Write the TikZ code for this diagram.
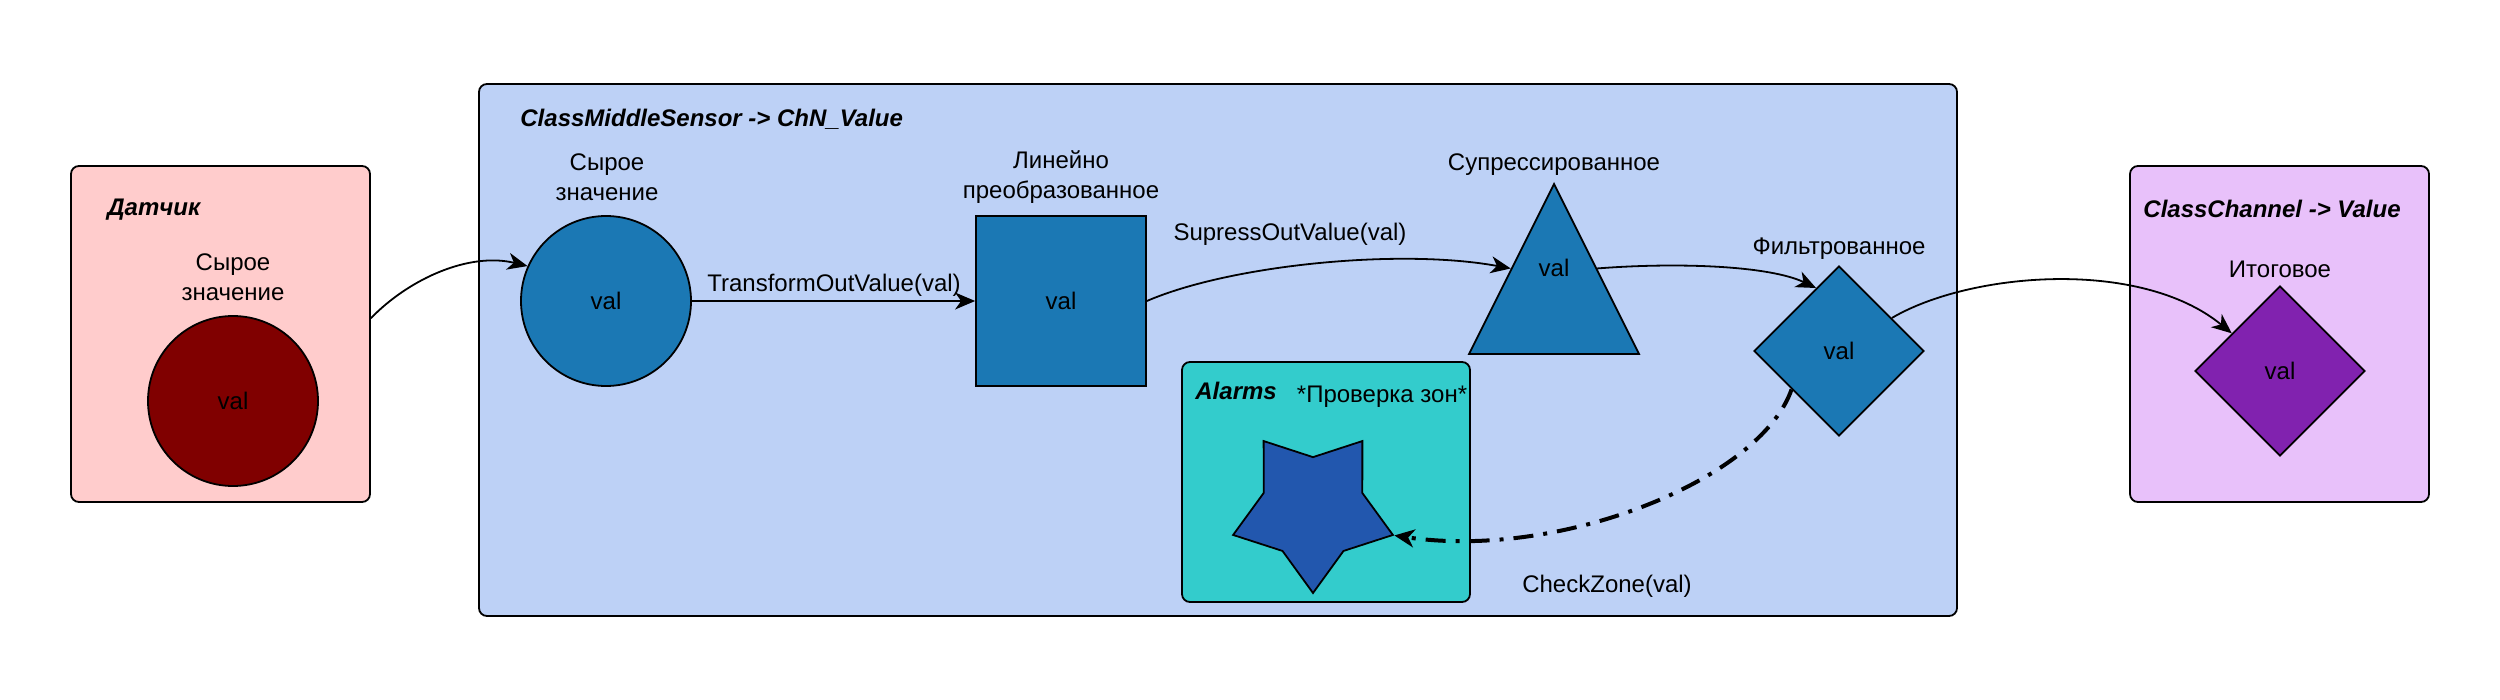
\documentclass[tikz,border=0pt]{standalone}
\usepackage{fontspec}
\setmainfont{Liberation Sans}
\usetikzlibrary{shapes.geometric,arrows.meta}
\definecolor{sensorbg}{RGB}{255,204,204}
\definecolor{rawred}{RGB}{128,0,0}
\definecolor{midbg}{RGB}{189,209,246}
\definecolor{nodeblue}{RGB}{27,120,180}
\definecolor{alarmbg}{RGB}{51,204,204}
\definecolor{starblue}{RGB}{34,87,174}
\definecolor{chanbg}{RGB}{232,193,250}
\definecolor{chanpurple}{RGB}{129,34,175}
\begin{document}
\begin{tikzpicture}[x=0.5pt,y=-0.5pt,
  font=\fontsize{12}{15}\selectfont,
  container/.style={draw=black, line width=0.9pt, rounded corners=4pt, inner sep=0pt},
  shapenode/.style={draw=black, line width=0.9pt, inner sep=0pt},
  titletext/.style={font=\fontsize{12}{15}\selectfont\bfseries\itshape, anchor=west, inner sep=0pt},
  caption/.style={align=center, inner sep=0pt},
  conn/.style={line width=0.9pt, -{Stealth[length=10pt,width=8.5pt,inset=3pt]}},
  dashconn/.style={line width=2pt, dash pattern=on 10pt off 5pt on 2pt off 5pt,
     -{Stealth[length=10pt,width=9pt,inset=3pt]}},
]
\useasboundingbox (0,0) rectangle (2500,700);

% containers
\node[container, fill=sensorbg, minimum width=149.5pt, minimum height=168pt] (sensor) at (220.5,334) {};
\node[container, fill=midbg, minimum width=739pt, minimum height=266pt] (middle) at (1218,350) {};
\node[container, fill=chanbg, minimum width=149.5pt, minimum height=168pt] (channel) at (2279.5,334) {};
\node[container, fill=alarmbg, minimum width=144pt, minimum height=120pt] (alarms) at (1326,482) {};

% titles
\node[titletext] (tsensor) at (107,210) {Датчик};
\node[titletext] (tmiddle) at (520,119) {ClassMiddleSensor -> ChN\_Value};
\node[titletext] (tchannel) at (2143,209) {ClassChannel -> Value};
\node[titletext] (talarms) at (1195,391) {Alarms};

% shapes
\node[shapenode, circle, fill=rawred, minimum size=85pt] (raw) at (233,401) {val};
\node[shapenode, circle, fill=nodeblue, minimum size=85pt] (rawmid) at (606,301) {val};
\node[shapenode, rectangle, fill=nodeblue, minimum size=85pt] (lin) at (1061,301) {val};
\node[shapenode, isosceles triangle, isosceles triangle apex angle=53.13, shape border rotate=90,
      fill=nodeblue, minimum width=85pt, minimum height=85pt, anchor=apex] (sup) at (1554,182) {};
\node (supval) at (1554,268) {val};
\node[shapenode, diamond, fill=nodeblue, minimum width=85pt, minimum height=85pt] (filt) at (1839,351) {val};
\node[shapenode, diamond, fill=chanpurple, minimum width=85pt, minimum height=85pt] (final) at (2280,371) {val};
\node[shapenode, star, star points=5, star point ratio=1.62, shape border rotate=180,
      fill=starblue, minimum size=84pt] (star) at (1313,509) {};

% captions
\node[caption] (craw) at (233,277) {Сырое\\значение};
\node[caption] (crawmid) at (607,177) {Сырое\\значение};
\node[caption] (clin) at (1061,177) {Линейно\\преобразованное};
\node[caption] (csup) at (1554,165) {Супрессированное};
\node[caption] (cfilt) at (1839,249) {Фильтрованное};
\node[caption] (cfinal) at (2280,269) {Итоговое};
\node[caption] (czone) at (1382,397) {*Проверка зон*};

% connectors
\draw[conn] (sensor.6.5) .. controls (410,278) and (470,252) .. (rawmid.156);
\draw[conn] (rawmid) -- (lin);
\draw[conn] (lin.east) .. controls (1230,265) and (1400,248) .. (sup.left side);
\draw[conn] (sup.right side) .. controls (1680,262) and (1770,266) .. (filt.110);
\draw[conn] (filt.32) .. controls (1970,272) and (2140,258) .. (final.142);
\draw[dashconn] (filt.219) .. controls (1760,480) and (1560,560) .. (star.-18);

% connector labels
\node[caption] (ltrans) at (834,285) {TransformOutValue(val)};
\node[caption] (lsup) at (1290,234) {SupressOutValue(val)};
\node[caption] (lzone) at (1607,586) {CheckZone(val)};
\end{tikzpicture}
\end{document}
